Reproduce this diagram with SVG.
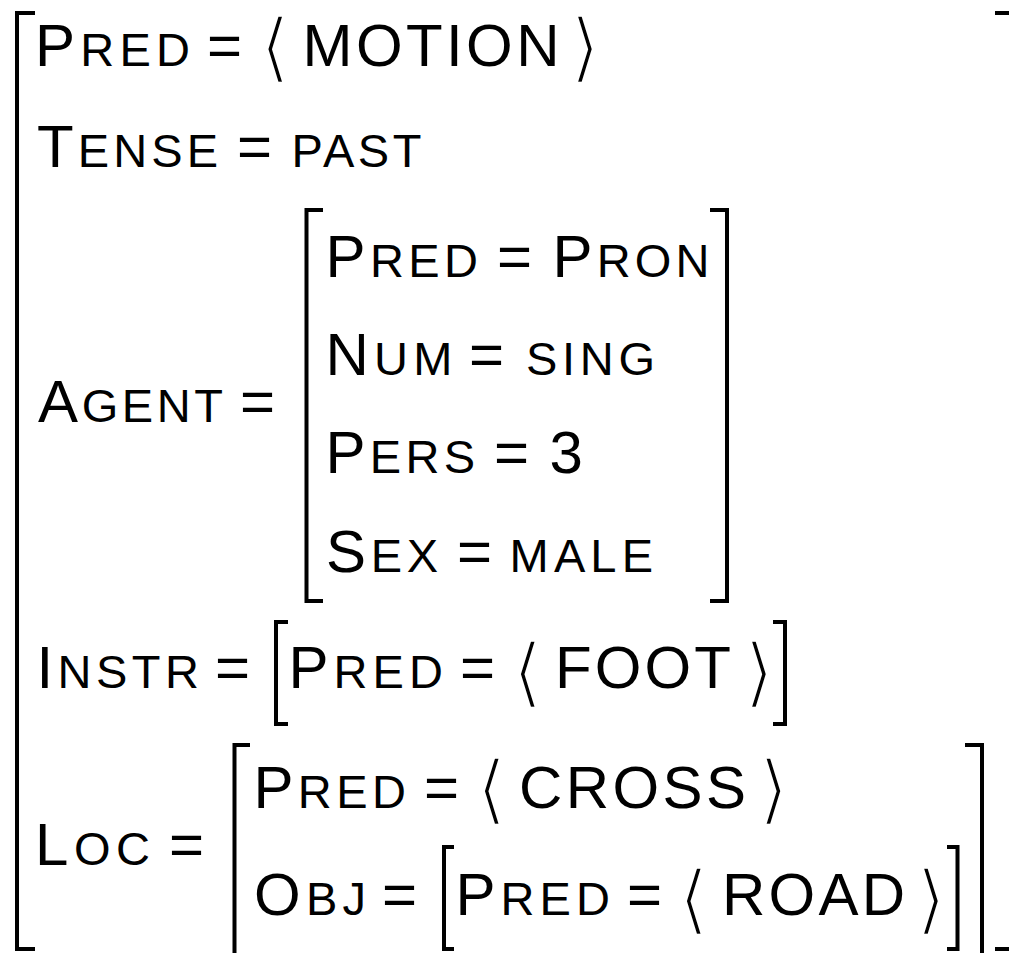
<svg xmlns="http://www.w3.org/2000/svg" width="1009" height="953" viewBox="0 0 1009 953">
<style>
text{font-family:"Liberation Sans",Arial,Helvetica,sans-serif;font-size:60px;fill:#000}
.sc{font-size:47px}
.ang{font-family:"DejaVu Sans",sans-serif;font-size:76px;text-anchor:middle;stroke:#fff;stroke-width:2.6px}
.br{fill:none;stroke:#000;stroke-width:4;stroke-linejoin:miter;stroke-linecap:butt}
</style>
<rect width="1009" height="953" fill="#fff"/>
<g id="brackets">
<path class="br" d="M35,13 H17 V949 H35"/>
<path class="br" d="M995,13 H1012 V949 H995"/>
<path class="br" d="M323,210 H306.5 V601 H323"/>
<path class="br" d="M710,210 H727 V601 H710"/>
<path class="br" d="M288,622 H276 V724 H288"/>
<path class="br" d="M773,622 H785 V724 H773"/>
<path class="br" d="M250,745 H234.5 V960"/>
<path class="br" d="M965,745 H982 V960"/>
<path class="br" d="M454,847 H444 V949 H454"/>
<path class="br" d="M947,847 H957.5 V949 H947"/>
</g>
<g id="row-pred">
<text x="35" y="66" textLength="155">P<tspan class="sc">RED</tspan></text>
<text x="207" y="66">=</text>
<text class="ang" x="275" y="73">⟨</text>
<text x="302.5" y="66" textLength="257">MOTION</text>
<text class="ang" x="585" y="73">⟩</text>
</g>
<g id="row-tense">
<text x="37" y="167" textLength="181">T<tspan class="sc">ENSE</tspan></text>
<text x="237" y="167">=</text>
<text class="sc" x="291.5" y="167" textLength="130">PAST</text>
</g>
<g id="row-agent">
<text x="38" y="422" textLength="185">A<tspan class="sc">GENT</tspan></text>
<text x="240" y="422">=</text>
</g>
<g id="agent-avm">
<text x="325.5" y="277" textLength="152.5">P<tspan class="sc">RED</tspan></text>
<text x="497" y="277">=</text>
<text x="552.5" y="277" textLength="157">P<tspan class="sc">RON</tspan></text>
<text x="325.5" y="375" textLength="127">N<tspan class="sc">UM</tspan></text>
<text x="469" y="375">=</text>
<text class="sc" x="526" y="375" textLength="129">SING</text>
<text x="325.5" y="473" textLength="149.5">P<tspan class="sc">ERS</tspan></text>
<text x="494" y="473">=</text>
<text x="549.5" y="473">3</text>
<text x="326" y="572" textLength="112">S<tspan class="sc">EX</tspan></text>
<text x="457" y="572">=</text>
<text class="sc" x="509.6" y="572" textLength="143.4">MALE</text>
</g>
<g id="row-instr">
<text x="36.4" y="688" textLength="162.6">I<tspan class="sc">NSTR</tspan></text>
<text x="215" y="688">=</text>
<text x="288.4" y="688" textLength="154.6">P<tspan class="sc">RED</tspan></text>
<text x="460" y="688">=</text>
<text class="ang" x="527.5" y="698">⟨</text>
<text x="555" y="688" textLength="176">FOOT</text>
<text class="ang" x="759" y="698">⟩</text>
</g>
<g id="row-loc">
<text x="35" y="865" textLength="115">L<tspan class="sc">OC</tspan></text>
<text x="169" y="865">=</text>
</g>
<g id="loc-avm">
<text x="253.4" y="808" textLength="152.6">P<tspan class="sc">RED</tspan></text>
<text x="424" y="808">=</text>
<text class="ang" x="491.5" y="815">⟨</text>
<text x="519" y="808" textLength="227">CROSS</text>
<text class="ang" x="773.5" y="815">⟩</text>
<text x="254" y="915" textLength="112">O<tspan class="sc">BJ</tspan></text>
<text x="382" y="915">=</text>
</g>
<g id="obj-avm">
<text x="455.4" y="915" textLength="154.6">P<tspan class="sc">RED</tspan></text>
<text x="627" y="915">=</text>
<text class="ang" x="693.5" y="925">⟨</text>
<text x="722" y="915" textLength="183">ROAD</text>
<text class="ang" x="931" y="925">⟩</text>
</g>
</svg>
